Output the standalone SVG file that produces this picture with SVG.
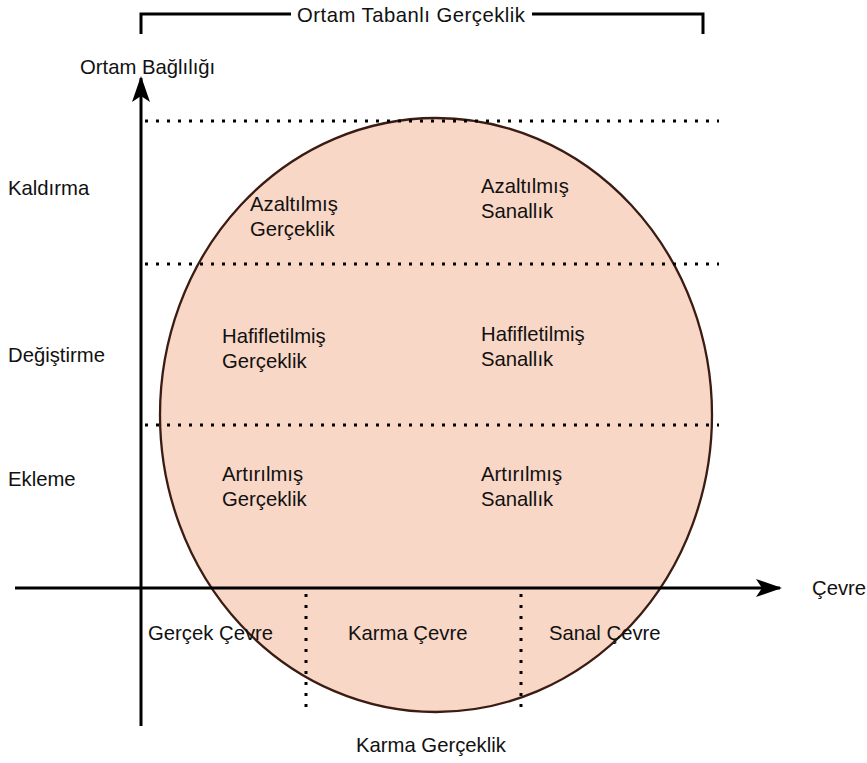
<svg xmlns="http://www.w3.org/2000/svg" width="867" height="763" viewBox="0 0 867 763">
<style>
text{font-family:"Liberation Sans",Arial,sans-serif;font-size:20.3px;fill:#111}
.dot{stroke:#000;stroke-width:3;stroke-dasharray:3 8;fill:none}
.ax{stroke:#000;stroke-width:3;fill:none}
</style>
<defs>
<marker id="ah" viewBox="0 0 26 18" refX="24" refY="9" markerWidth="26" markerHeight="18" markerUnits="userSpaceOnUse" orient="auto">
<path d="M0,0 L26,9 L0,18 L6,9 Z" fill="#000"/>
</marker>
</defs>
<g id="mixed-reality-ellipse">
<ellipse cx="436" cy="415" rx="276" ry="297" fill="#f9d7c6" stroke="#3a1c12" stroke-width="2.3"/>
</g>
<g id="connectors">
<line class="dot" x1="145" y1="121" x2="719" y2="121"/>
<line class="dot" x1="145" y1="264" x2="719" y2="264"/>
<line class="dot" x1="145" y1="425" x2="719" y2="425"/>
<line class="dot" x1="306" y1="594" x2="306" y2="714"/>
<line class="dot" x1="521" y1="594" x2="521" y2="714"/>
<line class="ax" x1="15" y1="588" x2="780" y2="588" marker-end="url(#ah)"/>
<line class="ax" x1="141" y1="726" x2="141" y2="78" marker-end="url(#ah)"/>
<polyline class="ax" points="141,34 141,14 291,14"/>
<polyline class="ax" points="532,14 703,14 703,34"/>
</g>
<g id="top-label"><text x="297" y="22" textLength="228">Ortam Tabanlı Gerçeklik</text></g>
<g id="y-axis-label"><text x="80" y="74">Ortam Bağlılığı</text></g>
<g id="x-axis-label"><text x="812" y="595">Çevre</text></g>
<g id="row-kaldirma"><text x="8" y="195">Kaldırma</text></g>
<g id="row-degistirme"><text x="8" y="362">Değiştirme</text></g>
<g id="row-ekleme"><text x="8" y="486">Ekleme</text></g>
<g id="azaltilmis-gerceklik"><text x="250" y="211">Azaltılmış</text><text x="250" y="236">Gerçeklik</text></g>
<g id="azaltilmis-sanallik"><text x="481" y="193">Azaltılmış</text><text x="481" y="218">Sanallık</text></g>
<g id="hafifletilmis-gerceklik"><text x="222" y="343">Hafifletilmiş</text><text x="222" y="368">Gerçeklik</text></g>
<g id="hafifletilmis-sanallik"><text x="481" y="341">Hafifletilmiş</text><text x="481" y="366">Sanallık</text></g>
<g id="artirilmis-gerceklik"><text x="222" y="481">Artırılmış</text><text x="222" y="506">Gerçeklik</text></g>
<g id="artirilmis-sanallik"><text x="481" y="481">Artırılmış</text><text x="481" y="506">Sanallık</text></g>
<g id="gercek-cevre"><text x="148" y="640">Gerçek Çevre</text></g>
<g id="karma-cevre"><text x="348" y="640">Karma Çevre</text></g>
<g id="sanal-cevre"><text x="549" y="640">Sanal Çevre</text></g>
<g id="karma-gerceklik"><text x="356" y="752">Karma Gerçeklik</text></g>
</svg>
